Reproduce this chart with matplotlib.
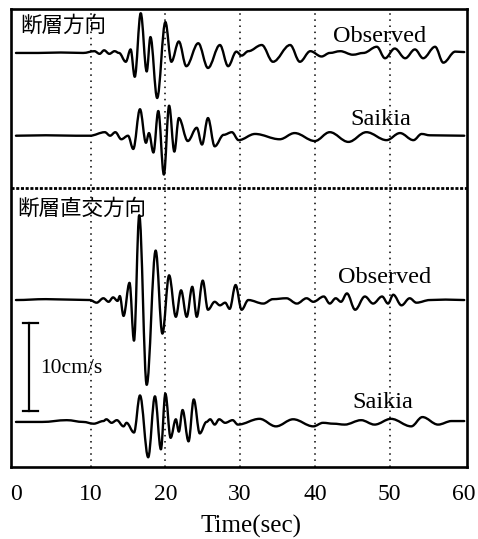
import matplotlib
matplotlib.use("Agg")
import matplotlib.pyplot as plt
import matplotlib.patches as patches
from matplotlib.path import Path

# velocity records (cm/s), peaks and troughs picked per trace
obs_par_t = [0, 3, 6, 9, 10.5, 11.2, 11.8, 12.5, 13.2, 13.8, 14.7, 15.35, 15.9, 16.7,
             17.5, 18.0, 18.9, 20.0, 20.8, 21.8, 22.8, 24.4, 25.7, 27.3, 28.4, 29.5,
             30.2, 31.1, 32.9, 34.4, 36.7, 38.0, 39.4, 40.9, 42.0, 43.4, 45.1, 46.5,
             48.3, 49.4, 50.7, 52.1, 53.4, 54.5, 56.1, 57.2, 58.8, 60]
obs_par_v = [0, 0, 0.05, 0, 0.2, -0.1, 0.3, -0.1, 0.2, 0.0, -1.0, 0.4, -2.7, 4.5,
             -2.1, 1.8, -5.1, 3.5, -1.0, 1.3, -1.5, 1.1, -1.7, 0.9, -1.5, 0.15,
             -0.3, 0.2, 0.9, -1.0, 0.9, -1.0, 0.2, -0.4, 0.0, 0.2, -0.2, 0.0,
             0.7, -0.6, 0.5, -0.6, 0.4, -0.6, 0.7, -1.1, 0.15, 0.1]

sai_par_t = [0, 4, 8, 9.9, 11.9, 12.6, 13.3, 14.1, 15.0, 15.7, 16.6, 17.4, 17.8, 18.4,
             19.05, 19.8, 20.5, 21.2, 21.8, 23.0, 24.2, 24.9, 25.7, 26.6, 27.8, 28.9,
             29.8, 32.0, 35.3, 37.3, 40.0, 42.0, 44.5, 46.9, 49.6, 51.4, 53.2, 54.3,
             55.4, 60]
sai_par_v = [0, 0.05, 0, 0, 0.4, 0, 0.4, -0.4, 0.0, -1.5, 3.0, -0.8, 0.3, -1.9,
             2.8, -4.4, 3.4, -1.8, 2.0, -0.6, 0.9, -1.0, 2.0, -1.2, 0.1, 0.4,
             -0.5, 0.2, -0.4, 0.3, -0.6, 0.4, -0.7, 0.4, -0.5, 0.3, -0.5, 0.2,
             0.05, 0]

obs_nor_t = [0, 4, 7, 9.9, 10.8, 11.7, 12.4, 13.0, 13.6, 13.9, 14.4, 15.2, 15.8, 16.5,
             17.5, 18.7, 19.6, 20.5, 21.4, 22.1, 22.85, 23.6, 24.2, 25.0, 25.7, 26.6,
             27.3, 28.0, 28.6, 29.4, 30.2, 31.1, 33.1, 34.4, 36.2, 37.6, 38.9, 39.8,
             41.2, 42.0, 42.8, 43.5, 44.3, 45.4, 46.7, 47.8, 49.0, 49.8, 50.5, 51.6,
             52.7, 53.6, 55.4, 57.5, 60]
obs_nor_v = [0, 0.1, 0.05, 0, -0.3, 0.2, -0.2, 0.3, -0.1, 0.45, -1.8, 1.95, -4.6, 9.6,
             -9.6, 5.6, -3.8, 2.8, -1.9, 1.1, -1.9, 1.5, -1.9, 2.2, -1.1, -0.2,
             -0.6, -0.3, -1.0, 1.7, -1.1, 0, -0.4, 0.1, 0.2, -0.4, 0.2, -0.2,
             0.4, -0.4, 0.2, -0.2, 0.75, -1.1, 0.4, -0.4, 0.4, -0.4, 0.6, -0.6,
             0.2, -0.3, 0, 0.05, 0]

sai_nor_t = [0, 3.5, 6.8, 9, 10.4, 11.7, 12.1, 12.8, 13.5, 14.4, 14.8, 15.8, 16.6, 17.7,
             18.6, 19.4, 20.0, 20.7, 21.4, 21.8, 22.3, 23.1, 23.8, 24.6, 25.5, 26.0,
             26.6, 27.2, 28.0, 29.0, 29.7, 32.6, 34.8, 37.1, 39.8, 41.1, 42.5, 44.0,
             46.2, 48.0, 50.2, 52.9, 54.4, 56.5, 58.3, 60]
sai_nor_v = [0, 0, 0.2, 0, -0.2, 0.1, 0.3, -0.1, 0.2, -0.5, -0.1, -1.2, 3.0, -4.0,
             2.9, -3.1, 3.2, -1.8, 0.3, -1.1, 1.35, -2.2, 2.55, -1.3, 0, 0.3,
             -0.3, 0.3, -0.1, 0.2, -0.3, 0.35, -0.5, 0.3, -0.5, -0.1, -0.2, -0.3,
             0.2, -0.3, 0.35, -0.5, 0.55, -0.3, 0.1, 0.1]

trace_names = ["Observed", "Saikia", "Observed", "Saikia"]
group_names = ["断層方向", "断層直交方向"]
xticks = [0, 10, 20, 30, 40, 50, 60]

# vertical offsets of each trace (cm/s)
offsets = [-5.03, -14.4, -33.0, -46.8]
name_y = [-3.8, -13.2, -31.05, -45.2]
name_x = [48.7, 48.9, 49.3, 49.1]

serif = ["Liberation Serif", "DejaVu Serif"]
jp = ["Noto Sans CJK JP", "DejaVu Sans"]


def wave_path(t, v, off):
    # bezier through the picked extrema, flat tangent at each one
    verts = [(t[0], v[0] + off)]
    codes = [Path.MOVETO]
    for i in range(1, len(t)):
        dt = t[i] - t[i - 1]
        verts += [(t[i - 1] + 0.36 * dt, v[i - 1] + off),
                  (t[i] - 0.36 * dt, v[i] + off),
                  (t[i], v[i] + off)]
        codes += [Path.CURVE4] * 3
    return Path(verts, codes)


fig = plt.figure(figsize=(4.78, 5.39), dpi=100)
ax = fig.add_axes([0.024, 0.1336, 0.953, 0.8506])

traces = [(obs_par_t, obs_par_v), (sai_par_t, sai_par_v),
          (obs_nor_t, obs_nor_v), (sai_nor_t, sai_nor_v)]
for (t, v), off in zip(traces, offsets):
    ax.add_patch(patches.PathPatch(wave_path(t, v, off), facecolor="none",
                                   edgecolor="black", lw=1.7,
                                   capstyle="round", joinstyle="round"))

for name, x, y in zip(trace_names, name_x, name_y):
    ax.text(x, y, name, family=serif, fontsize=17.5, ha="center", va="baseline")

ax.text(0.55, -1.98, group_names[0], family=jp, fontsize=15.5, ha="left", va="center")
ax.text(0.15, -22.7, group_names[1], family=jp, fontsize=15.5, ha="left", va="center")

# dotted grid and the divider between the two components
for x in [10, 20, 30, 40, 50]:
    ax.axvline(x, color="black", lw=1.1, ls=(0, (1, 3)))
ax.axhline(-20.36, color="black", lw=2.0, ls=(0, (1.1, 0.6)))

# 10 cm/s scale bar
ax.plot([1.78, 1.78], [-35.6, -45.6], color="black", lw=1.6)
ax.plot([0.9, 2.9], [-35.6, -35.6], color="black", lw=1.6)
ax.plot([0.9, 2.9], [-45.6, -45.6], color="black", lw=1.6)
ax.text(3.2, -40.8, "10cm/s", family=serif, fontsize=15.5, ha="left", va="center")

ax.set_xlim(-0.6, 60.37)
ax.set_ylim(-51.9, 0)
ax.set_xticks(xticks)
ax.set_xticklabels([str(x) for x in xticks], family=serif, fontsize=17)
ax.set_yticks([])
ax.tick_params(axis="x", length=0, pad=12)
ax.set_xlabel("Time(sec)", family=serif, fontsize=18, labelpad=2)
ax.xaxis.set_label_coords(0.526, -0.105)
for s in ax.spines.values():
    s.set_linewidth(1.9)

fig.savefig("out.png", dpi=100)
